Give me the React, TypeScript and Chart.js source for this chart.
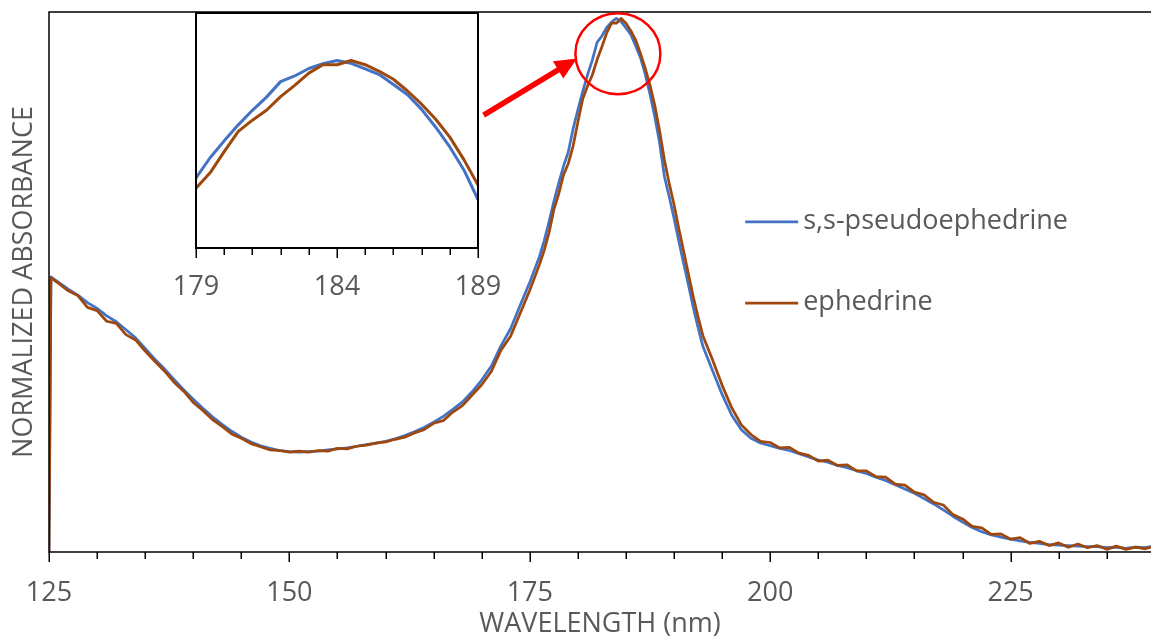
import React, { useEffect, useRef } from "react";
import { Chart, registerables } from "chart.js";

Chart.register(...registerables);

// ---------- DATA ----------
const wavelengths = [
  125, 125.2, 126, 127, 128, 129, 130, 131, 132, 133, 134, 135, 136, 137, 138, 139, 140,
  141, 142, 143, 144, 145, 146, 147, 148, 149, 150, 151, 152, 153, 154, 155, 156, 157, 158,
  159, 160, 161, 162, 163, 164, 165, 166, 167, 168, 169, 170, 171, 172, 173, 174, 175, 176,
  176.5, 177, 177.5, 178, 178.5, 179, 179.5, 180, 180.5, 181, 181.5, 182, 182.5, 183, 183.5,
  184, 184.5, 185, 185.5, 186, 186.5, 187, 187.5, 188, 188.5, 189, 189.5, 190, 190.5, 191,
  191.5, 192, 192.5, 193, 194, 195, 196, 197, 198, 199, 200, 201, 202, 203, 204, 205, 206,
  207, 208, 209, 210, 211, 212, 213, 214, 215, 216, 217, 218, 219, 220, 221, 222, 223, 224,
  225, 226, 227, 228, 229, 230, 231, 232, 233, 234, 235, 236, 237, 238, 239, 239.6,
];

const pseudoephedrine = [
  0, 0.515, 0.505, 0.492, 0.481, 0.467, 0.456, 0.442, 0.431, 0.416, 0.401, 0.381, 0.361, 0.343,
  0.323, 0.304, 0.286, 0.269, 0.253, 0.239, 0.226, 0.215, 0.206, 0.199, 0.194, 0.19, 0.188,
  0.187, 0.188, 0.189, 0.191, 0.193, 0.195, 0.198, 0.201, 0.204, 0.207, 0.212, 0.218, 0.225,
  0.233, 0.243, 0.254, 0.267, 0.281, 0.3, 0.322, 0.348, 0.386, 0.418, 0.462, 0.505, 0.553,
  0.583, 0.618, 0.656, 0.69, 0.722, 0.749, 0.792, 0.828, 0.862, 0.893, 0.921, 0.954, 0.966,
  0.982, 0.992, 0.999, 0.993, 0.981, 0.969, 0.948, 0.926, 0.895, 0.857, 0.815, 0.766, 0.703,
  0.665, 0.625, 0.582, 0.54, 0.5, 0.458, 0.42, 0.385, 0.34, 0.295, 0.256, 0.229, 0.213, 0.204,
  0.199, 0.194, 0.19, 0.184, 0.178, 0.172, 0.168, 0.162, 0.158, 0.152, 0.147, 0.14, 0.134,
  0.126, 0.118, 0.11, 0.1, 0.09, 0.079, 0.067, 0.056, 0.046, 0.038, 0.032, 0.028, 0.024, 0.021,
  0.018, 0.016, 0.014, 0.013, 0.012, 0.011, 0.01, 0.01, 0.008, 0.009, 0.007, 0.009, 0.008, 0.01,
];

const ephedrine = [
  0, 0.513, 0.503, 0.489, 0.48, 0.458, 0.452, 0.432, 0.428, 0.407, 0.397, 0.376, 0.357, 0.339,
  0.318, 0.301, 0.28, 0.265, 0.248, 0.235, 0.221, 0.213, 0.203, 0.197, 0.191, 0.19, 0.187,
  0.189, 0.187, 0.19, 0.189, 0.194, 0.193, 0.198, 0.2, 0.204, 0.206, 0.211, 0.215, 0.223,
  0.229, 0.241, 0.246, 0.262, 0.274, 0.294, 0.313, 0.338, 0.378, 0.404, 0.447, 0.49, 0.538,
  0.565, 0.598, 0.641, 0.67, 0.706, 0.727, 0.76, 0.805, 0.848, 0.872, 0.893, 0.922, 0.946,
  0.972, 0.99, 0.99, 0.999, 0.99, 0.976, 0.959, 0.934, 0.906, 0.874, 0.836, 0.788, 0.734,
  0.69, 0.65, 0.605, 0.563, 0.52, 0.478, 0.44, 0.405, 0.36, 0.312, 0.27, 0.238, 0.22, 0.207,
  0.205, 0.195, 0.196, 0.185, 0.181, 0.17, 0.172, 0.162, 0.163, 0.152, 0.152, 0.141, 0.14,
  0.127, 0.125, 0.112, 0.107, 0.093, 0.088, 0.07, 0.062, 0.048, 0.045, 0.033, 0.034, 0.024,
  0.027, 0.016, 0.02, 0.012, 0.017, 0.009, 0.015, 0.008, 0.012, 0.005, 0.011, 0.005, 0.009,
  0.006, 0.009,
];

const seriesNames = ["s,s-pseudoephedrine", "ephedrine"];
const seriesColors = ["#4472C4", "#9E480E"];

const mainTickLabels = [125, 150, 175, 200, 225];
const mainMinorStep = 5;
const insetTickLabels = [179, 184, 189];
const insetMinorStep = 1;

const X_RANGE = [125, 239.6];
const Y_RANGE = [0, 1.011];
const INSET_X_RANGE = [179, 189];
const INSET_Y_RANGE = [0.6, 1.1];

// annotation anchors in data units
const ELLIPSE = { x: 184.16, y: 0.933, rx: 4.42, ry: 0.0758 };
const ARROW_FROM = [170.2, 0.818];
const ARROW_TO = [179.9, 0.924];
const LEGEND_POS = { x: 197.4, ys: [0.618, 0.466] };

const FONT = "Open Sans";
const TEXT_COLOR = "#595959";

function buildDatasets(width: number) {
  const sets = [pseudoephedrine, ephedrine];
  return sets.map((vals, i) => ({
    label: seriesNames[i],
    data: wavelengths.map((w, k) => ({ x: w, y: vals[k] })),
    borderColor: seriesColors[i],
    backgroundColor: seriesColors[i],
    borderWidth: width,
    borderJoinStyle: "round",
    pointRadius: 0,
    tension: 0,
    order: i === 0 ? 1 : 0,
  }));
}

function drawTicks(ctx: CanvasRenderingContext2D, chart: any, min: number, max: number, step: number, majors: number[]) {
  const xs = chart.scales.x;
  const bottom = chart.chartArea.bottom;
  ctx.strokeStyle = "#000";
  ctx.lineWidth = 1.5;
  for (let v = min; v <= max + 1e-9; v += step) {
    const px = Math.round(xs.getPixelForValue(v)) + 0.25;
    const isMajor = majors.some((m) => Math.abs(m - v) < 1e-6);
    ctx.beginPath();
    ctx.moveTo(px, bottom);
    ctx.lineTo(px, bottom + (isMajor ? 10 : 7));
    ctx.stroke();
  }
}

const mainDecor = {
  id: "mainDecor",
  afterDatasetsDraw(chart: any) {
    const { ctx, chartArea: ca } = chart;
    const xs = chart.scales.x;
    const ys = chart.scales.y;
    ctx.save();
    // frame: top, left, bottom
    ctx.strokeStyle = "#000";
    ctx.lineWidth = 1.5;
    ctx.beginPath();
    ctx.moveTo(ca.right + 2, ca.top);
    ctx.lineTo(ca.left, ca.top);
    ctx.lineTo(ca.left, ca.bottom);
    ctx.lineTo(ca.right + 2, ca.bottom);
    ctx.stroke();
    drawTicks(ctx, chart, X_RANGE[0], X_RANGE[1], mainMinorStep, mainTickLabels);

    // red ellipse
    const cx = xs.getPixelForValue(ELLIPSE.x);
    const cy = ys.getPixelForValue(ELLIPSE.y);
    const rx = xs.getPixelForValue(ELLIPSE.x + ELLIPSE.rx) - cx;
    const ry = cy - ys.getPixelForValue(ELLIPSE.y + ELLIPSE.ry);
    ctx.strokeStyle = "#FF0000";
    ctx.lineWidth = 2.5;
    ctx.beginPath();
    ctx.ellipse(cx, cy, rx, ry, 0, 0, Math.PI * 2);
    ctx.stroke();

    // red arrow
    const ax0 = xs.getPixelForValue(ARROW_FROM[0]);
    const ay0 = ys.getPixelForValue(ARROW_FROM[1]);
    const ax1 = xs.getPixelForValue(ARROW_TO[0]);
    const ay1 = ys.getPixelForValue(ARROW_TO[1]);
    const ang = Math.atan2(ay1 - ay0, ax1 - ax0);
    const headLen = 22;
    const headW = 10;
    const bx = ax1 - headLen * Math.cos(ang);
    const by = ay1 - headLen * Math.sin(ang);
    ctx.lineWidth = 5.5;
    ctx.lineCap = "butt";
    ctx.beginPath();
    ctx.moveTo(ax0, ay0);
    ctx.lineTo(bx + 2 * Math.cos(ang), by + 2 * Math.sin(ang));
    ctx.stroke();
    ctx.fillStyle = "#FF0000";
    ctx.beginPath();
    ctx.moveTo(ax1, ay1);
    ctx.lineTo(bx + headW * Math.sin(ang), by - headW * Math.cos(ang));
    ctx.lineTo(bx - headW * Math.sin(ang), by + headW * Math.cos(ang));
    ctx.closePath();
    ctx.fill();

    // legend
    const lx = xs.getPixelForValue(LEGEND_POS.x);
    ctx.font = `27px "${FONT}"`;
    ctx.textAlign = "left";
    ctx.textBaseline = "alphabetic";
    LEGEND_POS.ys.forEach((yv, i) => {
      const ly = ys.getPixelForValue(yv);
      ctx.strokeStyle = seriesColors[i];
      ctx.lineWidth = 2.75;
      ctx.beginPath();
      ctx.moveTo(lx, ly);
      ctx.lineTo(lx + 53, ly);
      ctx.stroke();
      ctx.fillStyle = TEXT_COLOR;
      ctx.fillText(seriesNames[i], lx + 58, ly + 7);
    });
    ctx.restore();
  },
};

const insetDecor = {
  id: "insetDecor",
  afterDatasetsDraw(chart: any) {
    const { ctx, chartArea: ca } = chart;
    ctx.save();
    ctx.strokeStyle = "#000";
    ctx.lineWidth = 2;
    ctx.strokeRect(ca.left, ca.top, ca.right - ca.left, ca.bottom - ca.top);
    drawTicks(ctx, chart, INSET_X_RANGE[0], INSET_X_RANGE[1], insetMinorStep, insetTickLabels);
    ctx.restore();
  },
};

export default function App() {
  const mainRef = useRef<HTMLCanvasElement | null>(null);
  const insetRef = useRef<HTMLCanvasElement | null>(null);

  useEffect(() => {
    let main: Chart | null = null;
    let inset: Chart | null = null;
    let cancelled = false;

    const build = () => {
      if (cancelled || !mainRef.current || !insetRef.current) return;
      main = new Chart(mainRef.current, {
        type: "line",
        data: { datasets: buildDatasets(2.75) as any },
        plugins: [mainDecor],
        options: {
          animation: false,
          responsive: false,
          events: [],
          layout: { padding: { top: 12, left: 0, right: 0, bottom: 0 } },
          plugins: { legend: { display: false }, tooltip: { enabled: false } },
          scales: {
            x: {
              type: "linear",
              min: X_RANGE[0],
              max: X_RANGE[1],
              afterFit: (s: any) => {
                s.height = 86;
                s.paddingLeft = 0;
                s.paddingRight = 0;
              },
              afterBuildTicks: (s: any) => {
                s.ticks = mainTickLabels.map((v) => ({ value: v }));
              },
              grid: { display: false, drawTicks: false },
              border: { display: false },
              ticks: {
                padding: 25,
                color: TEXT_COLOR,
                font: { family: FONT, size: 27 },
                maxRotation: 0,
                autoSkip: false,
              },
              title: {
                display: true,
                text: "WAVELENGTH (nm)",
                color: TEXT_COLOR,
                font: { family: FONT, size: 27, lineHeight: 1 },
                padding: { top: 0, bottom: 0 },
              },
            },
            y: {
              type: "linear",
              min: Y_RANGE[0],
              max: Y_RANGE[1],
              afterFit: (s: any) => {
                s.width = 49;
              },
              grid: { display: false, drawTicks: false },
              border: { display: false },
              ticks: { display: false },
              title: {
                display: true,
                text: "NORMALIZED ABSORBANCE",
                color: TEXT_COLOR,
                font: { family: FONT, size: 27, lineHeight: 1 },
                padding: { top: 11, bottom: 0 },
              },
            },
          },
        },
      });

      inset = new Chart(insetRef.current, {
        type: "line",
        data: { datasets: buildDatasets(3) as any },
        plugins: [insetDecor],
        options: {
          animation: false,
          responsive: false,
          events: [],
          layout: { padding: { top: 13, left: 46, right: 32, bottom: 0 } },
          plugins: { legend: { display: false }, tooltip: { enabled: false } },
          scales: {
            x: {
              type: "linear",
              min: INSET_X_RANGE[0],
              max: INSET_X_RANGE[1],
              afterFit: (s: any) => {
                s.height = 72;
                s.paddingLeft = 0;
                s.paddingRight = 0;
              },
              afterBuildTicks: (s: any) => {
                s.ticks = insetTickLabels.map((v) => ({ value: v }));
              },
              grid: { display: false, drawTicks: false },
              border: { display: false },
              ticks: {
                padding: 23,
                color: TEXT_COLOR,
                font: { family: FONT, size: 27 },
                maxRotation: 0,
                autoSkip: false,
              },
            },
            y: {
              type: "linear",
              display: false,
              min: INSET_Y_RANGE[0],
              max: INSET_Y_RANGE[1],
            },
          },
        },
      });
    };

    const fontsReady = (document as any).fonts && (document as any).fonts.load
      ? Promise.all([
          (document as any).fonts.load(`27px "${FONT}"`),
        ]).catch(() => undefined)
      : Promise.resolve();
    fontsReady.then(build);

    return () => {
      cancelled = true;
      if (main) main.destroy();
      if (inset) inset.destroy();
    };
  }, []);

  return (
    <div
      style={{
        position: "fixed",
        left: 0,
        top: 0,
        width: 1151,
        height: 638,
        background: "#ffffff",
        overflow: "hidden",
      }}
    >
      <canvas
        ref={mainRef}
        width={1151}
        height={638}
        style={{ position: "absolute", left: 0, top: 0, width: 1151, height: 638 }}
      />
      <canvas
        ref={insetRef}
        width={360}
        height={320}
        style={{ position: "absolute", left: 150, top: 0, width: 360, height: 320 }}
      />
    </div>
  );
}
